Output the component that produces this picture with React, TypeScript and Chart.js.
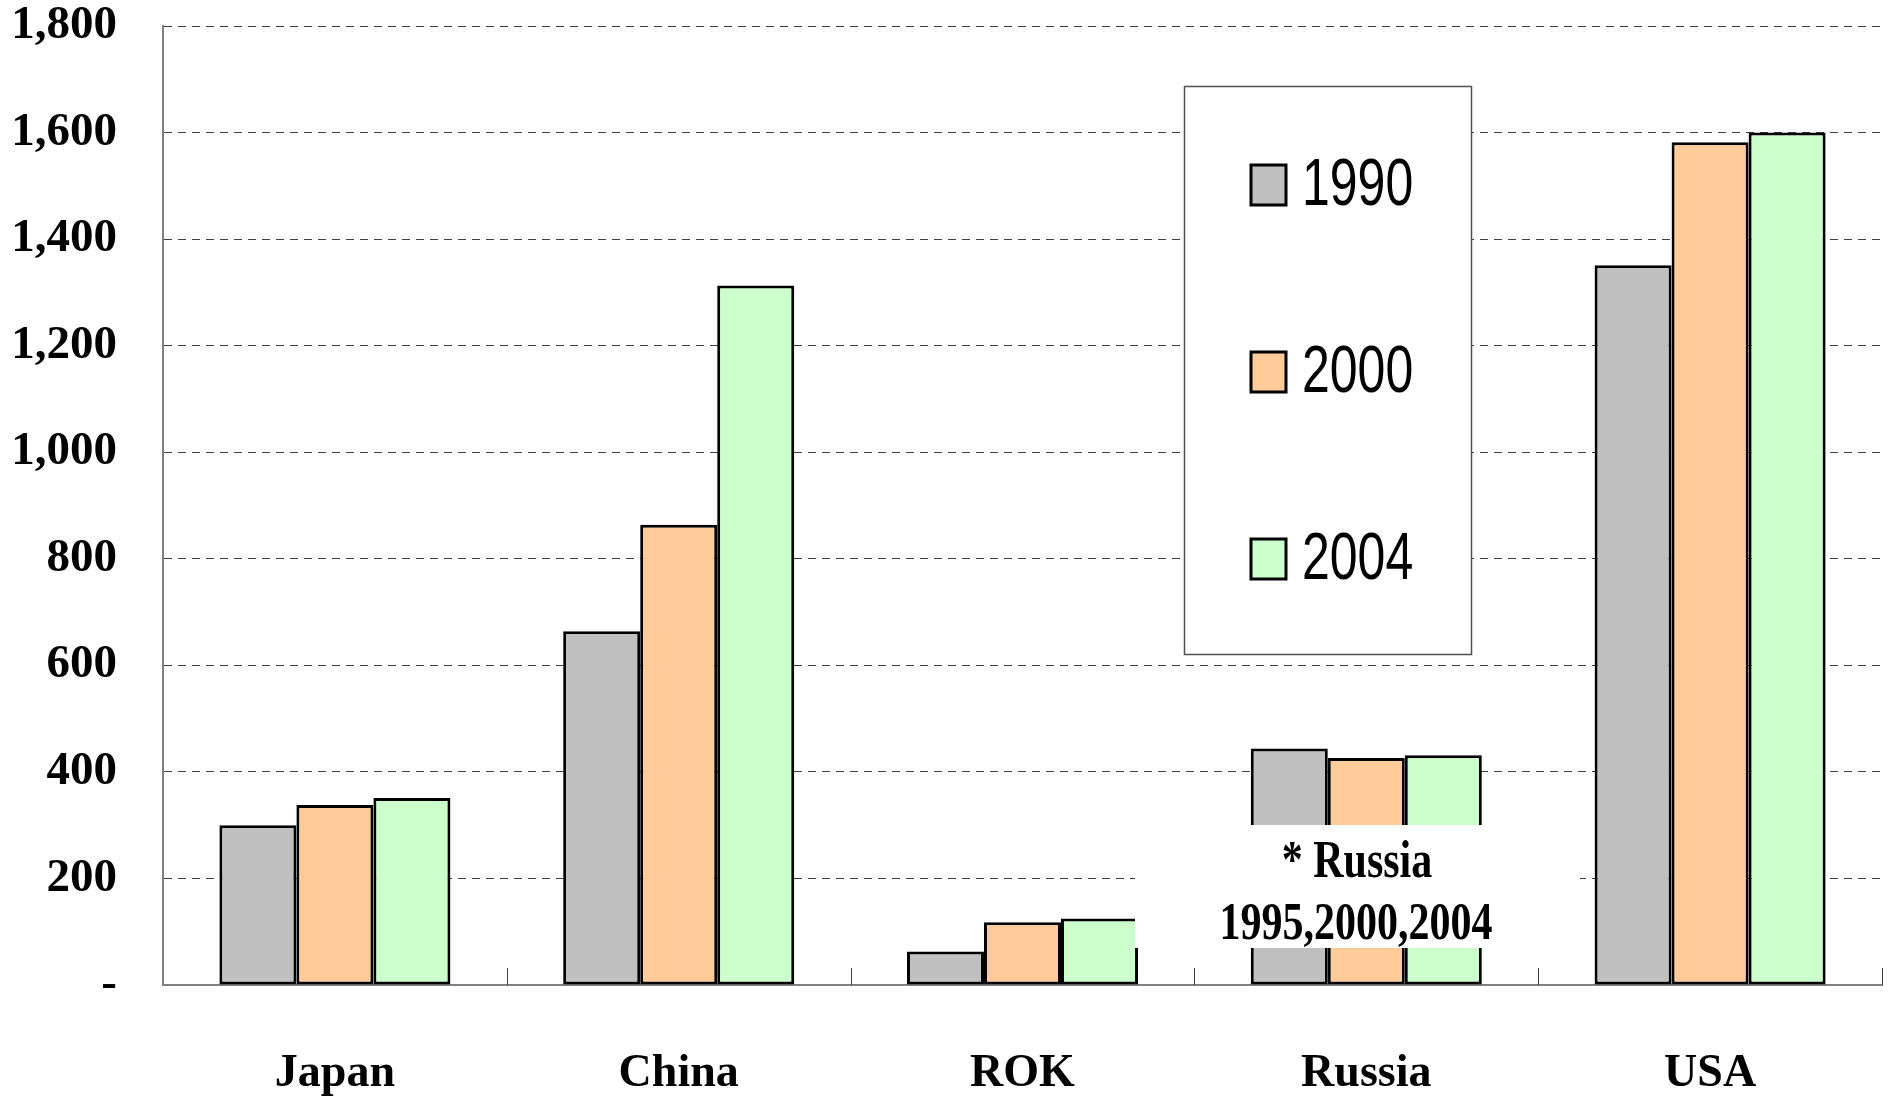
import React, { useEffect, useRef } from "react";
import { Chart, registerables } from "chart.js";

Chart.register(...registerables);

const categories = ["Japan", "China", "ROK", "Russia", "USA"];
const seriesLabels = ["1990", "2000", "2004"];
const values1990 = [300, 664, 63, 444, 1351];
const values2000 = [338, 864, 118, 426, 1582];
const values2004 = [351, 1313, 125, 431, 1600];
const seriesColors = ["#C0C0C0", "#FFCC99", "#CCFFCC"];
const yTickLabels = ["-", "200", "400", "600", "800", "1,000", "1,200", "1,400", "1,600", "1,800"];
const noteLines = ["* Russia", "1995,2000,2004"];

const SERIF = '"Liberation Serif", "Times New Roman", serif';
const SANS = '"Liberation Sans", Arial, sans-serif';

function stretchedText(ctx: any, text: string, x: number, y: number, sy: number) {
  ctx.save();
  ctx.translate(x, y);
  ctx.scale(1, sy);
  ctx.fillText(text, 0, 0);
  ctx.restore();
}

const overlayPlugin = {
  id: "overlay",
  afterDatasetsDraw(chart: any) {
    const ctx = chart.ctx;
    const area = chart.chartArea;
    const xs = chart.scales.x;
    ctx.save();

    // inward category tick marks on x axis
    const n = categories.length;
    const catW = (area.right - area.left) / n;
    ctx.strokeStyle = "#404040";
    ctx.lineWidth = 1;
    for (let i = 1; i <= n; i++) {
      const x = Math.round(xs.getPixelForValue(i - 1) + catW / 2) + 0.5;
      ctx.beginPath();
      ctx.moveTo(x, area.bottom);
      ctx.lineTo(x, area.bottom - 17);
      ctx.stroke();
    }

    // Russia note box
    ctx.fillStyle = "#FFFFFF";
    ctx.fillRect(1135, 825, 445, 123);
    ctx.fillStyle = "#000000";
    ctx.font = `bold 42px ${SERIF}`;
    ctx.textAlign = "center";
    ctx.textBaseline = "middle";
    stretchedText(ctx, noteLines[0], 1357, 863, 1.25);
    stretchedText(ctx, noteLines[1], 1356, 925, 1.25);

    // legend box
    const lx = 1184, ly = 86, lw = 287, lh = 568;
    ctx.fillStyle = "#FFFFFF";
    ctx.fillRect(lx, ly, lw, lh);
    ctx.strokeStyle = "#505050";
    ctx.lineWidth = 1.5;
    ctx.strokeRect(lx + 0.5, ly + 0.5, lw, lh);
    const itemY = [185, 372, 559];
    chart.data.datasets.forEach((ds: any, i: number) => {
      const cy = itemY[i];
      ctx.fillStyle = ds.backgroundColor;
      ctx.fillRect(1251, cy - 20, 35, 40);
      ctx.strokeStyle = "#000000";
      ctx.lineWidth = 3;
      ctx.strokeRect(1251, cy - 20, 35, 40);
      ctx.fillStyle = "#000000";
      ctx.font = `50px ${SANS}`;
      ctx.textAlign = "left";
      ctx.textBaseline = "middle";
      stretchedText(ctx, ds.label, 1302, cy + 2, 1.32);
    });

    ctx.restore();
  },
};

export default function App() {
  const canvasRef = useRef<HTMLCanvasElement | null>(null);

  useEffect(() => {
    if (!canvasRef.current) return;
    const series = [values1990, values2000, values2004];
    const chart = new Chart(canvasRef.current, {
      type: "bar",
      data: {
        labels: categories,
        datasets: series.map((vals, i) => ({
          label: seriesLabels[i],
          data: vals,
          backgroundColor: seriesColors[i],
          borderColor: "#000000",
          borderWidth: 3,
          borderSkipped: false,
          categoryPercentage: 0.672,
          barPercentage: 1.0,
        })),
      },
      options: {
        animation: false,
        responsive: true,
        maintainAspectRatio: false,
        layout: { padding: { top: 26, right: 10, bottom: 0, left: 0 } },
        plugins: {
          legend: { display: false },
          tooltip: { enabled: false },
        },
        scales: {
          x: {
            grid: { display: false, drawTicks: false },
            border: { display: true, color: "#808080", width: 2 },
            ticks: {
              color: "#000000",
              padding: 62,
              font: { family: SERIF, size: 46, weight: "bold" },
            },
            afterFit(scale: any) {
              scale.height = 114;
              scale.paddingLeft = 0;
              scale.paddingRight = 0;
            },
          },
          y: {
            min: 0,
            max: 1800,
            ticks: {
              stepSize: 200,
              color: "#000000",
              padding: 46,
              font: { family: SERIF, size: 47, weight: "bold" },
              callback: (_v: any, idx: number) => yTickLabels[idx],
            },
            grid: {
              color: "#404040",
              lineWidth: 1,
              drawTicks: false,
            },
            border: { display: true, color: "#808080", width: 2, dash: [8, 6] },
            afterFit(scale: any) {
              scale.width = 163;
              scale.paddingTop = 0;
              scale.paddingBottom = 0;
            },
          },
        },
      },
      plugins: [overlayPlugin],
    } as any);
    return () => chart.destroy();
  }, []);

  return (
    <div style={{ position: "fixed", left: 0, top: 0, width: "100vw", height: "100vh", background: "#fff" }}>
      <canvas ref={canvasRef} />
    </div>
  );
}
